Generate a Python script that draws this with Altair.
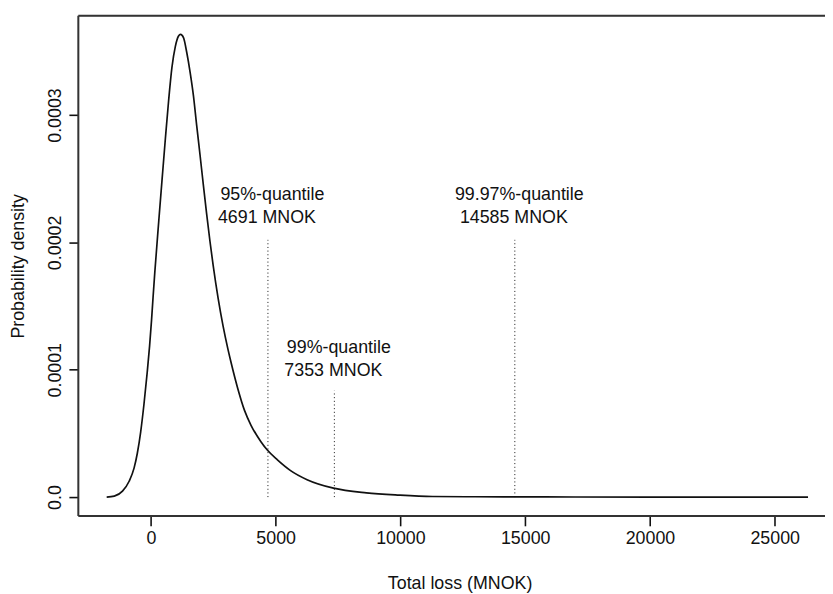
import altair as alt
import pandas as pd

# ---- data ----
loss = [-1771, -1466, -1137, -872, -674, -543, -408, -277, -147, -52,
        28, 91, 158, 317, 448, 582, 713, 844, 979, 1109,
        1189, 1307, 1438, 1573, 1704, 1834, 1969, 2100, 2231, 2365,
        2496, 2694, 2892, 3090, 3221, 3487, 3752, 4013, 4410, 4675,
        5071, 5598, 6260, 7318, 8637, 9957, 11280, 12995, 14585, 17000,
        20000, 23000, 26335]
density = [0, 7.8e-7, 4.66e-6, 1.243e-5, 2.277e-5, 3.442e-5, 5.128e-5, 7.288e-5, 9.79e-5, 1.1857e-4,
           1.3932e-4, 1.5796e-4, 1.7661e-4, 2.1702e-4, 2.4926e-4, 2.8174e-4, 3.1181e-4, 3.3745e-4, 3.5377e-4, 3.6208e-4,
           3.6333e-4, 3.6076e-4, 3.4911e-4, 3.3357e-4, 3.1546e-4, 2.9215e-4, 2.6884e-4, 2.4553e-4, 2.2300e-4, 2.0129e-4,
           1.8190e-4, 1.5616e-4, 1.3438e-4, 1.1597e-4, 1.0510e-4, 8.493e-5, 6.807e-5, 5.641e-5, 4.351e-5, 3.675e-5,
           2.922e-5, 2.08e-5, 1.368e-5, 7.0e-6, 3.34e-6, 1.55e-6, 4.7e-7, 2.5e-7, 1.5e-7, 6e-8,
           2e-8, 1e-8, 0]

q_names = ["95%-quantile", "99%-quantile", "99.97%-quantile"]
q_values = [4691, 7353, 14585]
q_line_top = [0.000202, 0.0000836, 0.000202]
q_label_y1 = [2.333e-4, 1.129e-4, 2.333e-4]
q_label_y2 = [2.149e-4, 9.48e-5, 2.149e-4]

x_ticks = [0, 5000, 10000, 15000, 20000, 25000]
y_ticks = [0.0, 0.0001, 0.0002, 0.0003]
x_domain = [-2908, 27015]
y_domain = [-1.4766e-5, 3.7794e-4]

# ---- chart ----
W, H = 754, 505
FONT = "Liberation Sans"
FS = 18
INK = "#111111"

curve_df = pd.DataFrame({"loss": loss, "density": density})
q_df = pd.DataFrame({
    "name": q_names,
    "value": q_values,
    "top": q_line_top,
    "zero": [0.0] * len(q_values),
    "y1": q_label_y1,
    "y2": q_label_y2,
    "amount": [f"{v} MNOK" for v in q_values],
})

xscale = alt.Scale(domain=x_domain, nice=False, zero=False)
yscale = alt.Scale(domain=y_domain, nice=False, zero=False)

xaxis = alt.Axis(
    values=x_ticks, format="d", title="Total loss (MNOK)", grid=False, domain=False,
    tickSize=10, tickWidth=1.6, tickColor=INK,
    labelFont=FONT, labelFontSize=FS, labelColor=INK, labelBaseline="alphabetic",
    labelPadding=18, labelFlush=False, labelOverlap=False,
    titleFont=FONT, titleFontSize=FS, titleFontWeight="normal", titleColor=INK,
    titleX=385, titleY=73.5, titleBaseline="alphabetic", titleAlign="center",
)
yaxis = alt.Axis(
    values=y_ticks, title="Probability density", grid=False, domain=False,
    labelExpr="datum.value == 0 ? '0.0' : format(datum.value, '.4f')",
    tickSize=9.5, tickWidth=1.6, tickColor=INK,
    labelFont=FONT, labelFontSize=FS, labelColor=INK, labelAngle=270,
    labelAlign="center", labelBaseline="alphabetic", labelPadding=8.5,
    labelFlush=False, labelOverlap=False,
    titleFont=FONT, titleFontSize=FS, titleFontWeight="normal", titleColor=INK,
    titleAngle=270, titleX=-55, titleY=252.5, titleBaseline="alphabetic", titleAlign="center",
)

curve = alt.Chart(curve_df).mark_line(color=INK, strokeWidth=1.7, clip=True,
                                      interpolate="monotone").encode(
    x=alt.X("loss:Q", scale=xscale, axis=xaxis),
    y=alt.Y("density:Q", scale=yscale, axis=yaxis),
)

rules = alt.Chart(q_df).mark_rule(color=INK, strokeWidth=1, strokeDash=[1, 2.7]).encode(
    x=alt.X("value:Q", scale=xscale, axis=xaxis),
    y=alt.Y("zero:Q", scale=yscale, axis=yaxis),
    y2="top:Q",
)

text1 = alt.Chart(q_df).mark_text(font=FONT, fontSize=FS, color=INK, align="center",
                                  baseline="alphabetic", dx=4.5).encode(
    x=alt.X("value:Q", scale=xscale, axis=xaxis),
    y=alt.Y("y1:Q", scale=yscale, axis=yaxis),
    text="name:N",
)
text2 = alt.Chart(q_df).mark_text(font=FONT, fontSize=FS, color=INK, align="center",
                                  baseline="alphabetic", dx=-1).encode(
    x=alt.X("value:Q", scale=xscale, axis=xaxis),
    y=alt.Y("y2:Q", scale=yscale, axis=yaxis),
    text="amount:N",
)

frame_src = pd.DataFrame({"k": [0]})
frame_top = alt.Chart(frame_src).mark_rule(color="#333333", strokeWidth=2).encode(
    x=alt.value(0), x2=alt.value(W), y=alt.value(0))
frame_left = alt.Chart(frame_src).mark_rule(color="#333333", strokeWidth=2).encode(
    x=alt.value(0), y=alt.value(0), y2=alt.value(H))
frame_bottom = alt.Chart(frame_src).mark_rule(color="#333333", strokeWidth=2).encode(
    x=alt.value(0), x2=alt.value(W), y=alt.value(H))

chart = alt.layer(curve, rules, text1, text2, frame_top, frame_left, frame_bottom).properties(
    width=W, height=H,
    padding={"left": 71, "top": 5, "right": 0, "bottom": 76},
    autosize=alt.AutoSizeParams(type="none"),
).configure_view(stroke=None).configure(background="white")

chart.save("out.html", embed_options={"renderer": "svg", "actions": False})
